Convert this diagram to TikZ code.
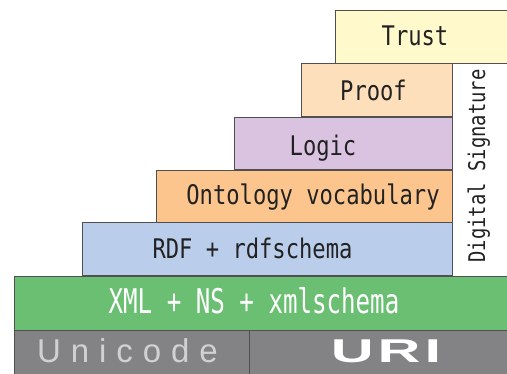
\documentclass[tikz,border=0pt]{standalone}
\usepackage{fontspec}
\usepackage{tikz}
\usetikzlibrary{positioning}
\newfontfamily\layerfont[FakeStretch=0.82]{DejaVu Sans Mono}
\newfontfamily\xmlfont[FakeStretch=0.71]{DejaVu Sans Mono}
\newfontfamily\unifont[LetterSpace=30]{Liberation Sans}
\newfontfamily\urifont[FakeStretch=1.8,LetterSpace=12]{Liberation Sans Bold}
\definecolor{trustcol}{RGB}{255,249,204}
\definecolor{proofcol}{RGB}{253,223,188}
\definecolor{logiccol}{RGB}{217,195,225}
\definecolor{ontocol}{RGB}{251,197,141}
\definecolor{rdfcol}{RGB}{186,206,235}
\definecolor{xmlcol}{RGB}{107,191,115}
\definecolor{basecol}{RGB}{131,131,134}
\definecolor{edgecol}{RGB}{80,80,80}
\definecolor{inkcol}{RGB}{34,34,34}

\begin{document}
\begin{tikzpicture}[x=1pt, y=-1pt, layer/.style={draw=edgecol, line width=0.8pt, rectangle, anchor=north west, inner sep=0pt}, label/.style={anchor=base, inner sep=0pt, text=inkcol, font=\layerfont\fontsize{27}{27}\selectfont}]
		\useasboundingbox (0,0) rectangle (507,373);
		\clip (0,0) rectangle (507,373);
		\node[layer, fill=trustcol, minimum width=180pt, minimum height=53pt](trust) at (335, 10) {};
		\node[layer, fill=proofcol, minimum width=151pt, minimum height=53pt](proof) at (301, 63) {};
		\node[layer, fill=logiccol, minimum width=218pt, minimum height=52pt](logic) at (234, 117) {};
		\node[layer, fill=ontocol, minimum width=296pt, minimum height=52pt](onto) at (156, 170) {};
		\node[layer, fill=rdfcol, minimum width=370pt, minimum height=53pt](rdf) at (82, 222) {};
		\node[layer, fill=xmlcol, minimum width=500pt, minimum height=54pt](xml) at (14, 276) {};
		\node[layer, fill=basecol, minimum width=235pt, minimum height=50pt](unicode) at (14, 330) {};
		\node[layer, fill=basecol, minimum width=265pt, minimum height=50pt](uri) at (249, 330) {};
		
		\node[label](trustlbl) at (415, 45) {Trust};
		\node[label](prooflbl) at (373.5, 100) {Proof};
		\node[label](logiclbl) at (323, 155) {Logic};
		\node[label](ontolbl) at (313, 204.5) {Ontology vocabulary};
		\node[label](rdflbl) at (252.5, 258) {RDF + rdfschema};
		\node[label, text=white, font=\xmlfont\fontsize{34}{34}\selectfont](xmllbl) at (254, 313) {XML + NS + xmlschema};
		\node[label, rotate=90, font=\layerfont\fontsize{23}{23}\selectfont](siglbl) at (485, 166) {Digital Signature};
		\node[label, anchor=base west, text=black!18, font=\unifont\fontsize{33}{33}\selectfont](unilbl) at (37, 362) {Unicode};
		\node[label, text=white, font=\urifont\fontsize{33}{33}\selectfont](urilbl) at (386, 362) {URI};
		\end{tikzpicture}
\end{document}
